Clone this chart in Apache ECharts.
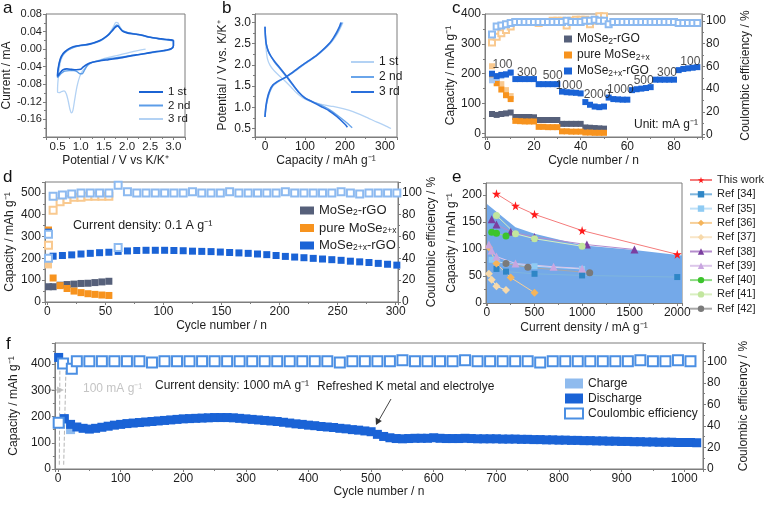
<!DOCTYPE html>
<html><head><meta charset="utf-8">
<script src="https://cdn.jsdelivr.net/npm/echarts@6/dist/echarts.min.js"></script>
<style>html,body{margin:0;padding:0;background:#fff}#c{width:764px;height:505px}</style>
</head><body><div id="c"></div><script>
// ---------- panel a : CV curves [potential V, current mA] ----------
const cv1st = [[3.0,0.020],[3.0,0.008],[2.95,0.001],[2.8,-0.003],[2.6,-0.006],[2.4,-0.010],[2.2,-0.013],[2.0,-0.017],[1.8,-0.021],[1.6,-0.024],[1.4,-0.027],[1.25,-0.030],[1.15,-0.034],[1.05,-0.041],[1.0,-0.046],[0.9,-0.047],[0.8,-0.046],[0.7,-0.045],[0.62,-0.047],[0.56,-0.053],[0.5,-0.062],[0.5,-0.058],[0.52,-0.040],[0.56,-0.022],[0.62,-0.010],[0.7,-0.002],[0.8,0.004],[0.9,0.007],[1.0,0.009],[1.1,0.010],[1.2,0.012],[1.3,0.015],[1.4,0.019],[1.5,0.025],[1.6,0.033],[1.68,0.042],[1.75,0.050],[1.8,0.053],[1.85,0.047],[1.9,0.041],[2.0,0.037],[2.1,0.035],[2.2,0.034],[2.35,0.031],[2.5,0.027],[2.7,0.024],[2.85,0.022],[2.95,0.021],[3.0,0.020]];
const cv2nd = [[3.0,0.019],[3.0,0.007],[2.95,0.000],[2.8,-0.004],[2.6,-0.007],[2.4,-0.010],[2.2,-0.013],[2.0,-0.016],[1.8,-0.019],[1.6,-0.022],[1.4,-0.026],[1.25,-0.030],[1.15,-0.036],[1.08,-0.048],[1.03,-0.056],[0.98,-0.056],[0.92,-0.051],[0.85,-0.049],[0.75,-0.049],[0.65,-0.050],[0.57,-0.056],[0.5,-0.065],[0.5,-0.060],[0.52,-0.042],[0.56,-0.024],[0.62,-0.012],[0.7,-0.004],[0.8,0.002],[0.9,0.006],[1.0,0.008],[1.2,0.011],[1.4,0.018],[1.5,0.024],[1.6,0.032],[1.7,0.046],[1.78,0.055],[1.83,0.050],[1.9,0.042],[2.0,0.038],[2.2,0.034],[2.35,0.031],[2.42,0.028],[2.5,0.027],[2.7,0.023],[2.85,0.021],[3.0,0.019]];
const cv3rd = [[2.4,0.000],[2.2,-0.004],[2.0,-0.009],[1.8,-0.014],[1.6,-0.019],[1.4,-0.025],[1.25,-0.030],[1.15,-0.037],[1.05,-0.048],[0.98,-0.062],[0.92,-0.085],[0.87,-0.115],[0.83,-0.140],[0.8,-0.145],[0.77,-0.138],[0.73,-0.118],[0.69,-0.102],[0.64,-0.095],[0.58,-0.097],[0.54,-0.099],[0.5,-0.098],[0.5,-0.090],[0.52,-0.060],[0.55,-0.035],[0.6,-0.018],[0.68,-0.006],[0.78,0.002],[0.9,0.006],[1.0,0.008],[1.2,0.012],[1.4,0.019],[1.5,0.025],[1.6,0.034],[1.7,0.050],[1.76,0.061],[1.8,0.060],[1.85,0.050],[1.9,0.043],[2.0,0.038],[2.2,0.034],[2.4,0.029],[2.6,0.025],[2.8,0.022],[3.0,0.020],[3.0,0.012]];

// ---------- panel b : GCD curves [capacity, potential] ----------
const gcd1Dis = [[0,2.9],[1,2.6],[3,2.35],[6,2.15],[12,2.0],[22,1.87],[35,1.75],[50,1.62],[65,1.48],[80,1.33],[95,1.22],[110,1.15],[130,1.09],[150,1.05],[170,1.02],[195,0.97],[220,0.9],[250,0.78],[280,0.65],[300,0.57],[315,0.5]];
const gcd1Chg = [[0,0.77],[2,0.95],[6,1.15],[12,1.35],[20,1.5],[30,1.58],[45,1.67],[60,1.75],[80,1.88],[100,2.02],[120,2.15],[140,2.3],[155,2.42],[170,2.58],[182,2.75],[190,2.9],[195,3.0]];
const gcd2Dis = [[0,2.9],[1,2.7],[3,2.5],[8,2.32],[15,2.2],[25,2.05],[40,1.88],[55,1.7],[70,1.52],[85,1.35],[100,1.22],[120,1.13],[140,1.05],[160,0.95],[180,0.82],[200,0.67],[218,0.52]];
const gcd2Chg = [[0,0.77],[2,0.98],[6,1.2],[12,1.38],[20,1.52],[35,1.62],[50,1.7],[70,1.83],[90,1.97],[110,2.1],[130,2.24],[150,2.4],[165,2.55],[180,2.75],[188,2.9],[193,3.0]];
const gcd3Dis = [[0,2.9],[1,2.7],[3,2.5],[8,2.33],[15,2.2],[25,2.07],[40,1.9],[55,1.72],[70,1.53],[85,1.35],[100,1.22],[120,1.12],[140,1.02],[160,0.92],[180,0.78],[200,0.6],[206,0.53]];
const gcd3Chg = [[0,0.77],[2,1.0],[6,1.22],[12,1.4],[20,1.53],[35,1.63],[50,1.7],[70,1.83],[90,1.97],[110,2.1],[130,2.23],[150,2.4],[165,2.55],[178,2.75],[186,2.9],[190,3.0]];

// ---------- panel c : rate performance ----------
const cCycles = [2,4,6,8,10,12,14,16,18,20,22,24,26,28,30,32,34,36,38,40,42,44,46,48,50,52,54,56,58,60,62,64,66,68,70,72,74,76,78,80,82,84,86,88,90];
const cRgoX = [200,192,196,198,204, 182,182,182,182,182, 165,165,165,165,165, 140,138,137,136,134, 105,96,90,88,90, 120,115,114,113,113, 145,148,150,152,155, 180,180,180,180,180, 212,216,218,220,222];
const cPure = [185,168,147,128,115, 42,41,40,40,40, 22,22,21,21,21, 7,7,6,6,6, 3,3,2,2,2];
const cMoSe2 = [65,62,65,67,70, 55,55,55,55,54, 45,45,45,45,45, 32,32,32,32,32, 20,19,18,17,16];
const cChargeCycles = [2,4,6,8,10];
const cPureCharge = [225,185,165,145,125];
const cRgoXCharge = [178,186,192,196,202];
const cCeRgoX = [88,95,96,97,98, 99,99,99,99,99, 99,99,99,99,99, 99,100,99,99,99, 100,100,101,100,100, 97,99,99,99,99, 99,99,99,99,99, 99,99,99,99,99, 98,98,98,98,98];
const cCePure = [81,86,89,92,95, 99,99,99,99,99, 98,99,99,100,100, 100,96,100,101,101, 101,97,100,104,104];
const cRateLabels = ['100','300','500','1000','2000','1000','500','300','100'];

// ---------- panel d : cycling at 0.1 A/g ----------
const dRgoXCycles = [1,5,13,21,29,37,45,53,61,69,77,85,93,101,109,117,125,133,141,149,157,165,173,181,189,197,205,213,221,229,237,245,253,261,269,277,285,293,301];
const dRgoX = [320,210,213,216,220,223,226,228,232,234,236,237,237,237,236,235,233,232,231,229,227,225,223,220,217,213,209,206,203,200,197,194,191,187,184,181,177,173,169];
const dCeRgoX = [62,97,98,99,100,100,100,100,107,101,100,100,100,100,100,100,101,100,100,100,101,100,100,100,100,100,101,100,100,100,100,100,101,100,99,100,100,100,100];
const dCeRgoXExtra = [[1,40],[61,50]];
const dPureCycles = [1,5,11,17,23,29,35,41,47,53];
const dPure = [330,110,75,62,50,43,38,35,32,30];
const dPureCharge = [[1,170]];
const dMoSe2 = [70,70,77,80,82,85,86,89,92,95];
const dCePure = [52,84,92,94,96,96,97,97,97,97];

// ---------- panel e : comparison [current density, capacity] ----------
const eArea = [[0,183],[300,140],[500,128],[1000,107],[1550,98],[2050,88]];
const eThisWork = [[100,202],[300,180],[500,164],[1000,134],[2000,90]];
const eRef34 = [[100,63],[200,58],[500,54],[1000,51],[2000,48]];
const eRef35 = [[50,80],[100,77],[200,73],[500,68],[1000,63]];
const eRef36 = [[20,103],[100,73],[250,47],[500,19]];
const eRef37 = [[20,54],[50,43],[100,31],[200,24]];
const eRef38 = [[50,155],[100,145],[250,132],[500,122],[1050,108],[1550,99]];
const eRef39 = [[20,108],[50,97],[100,86],[300,73],[700,67],[1000,64]];
const eRef40 = [[50,131],[100,129],[200,124]];
const eRef41 = [[100,162],[300,128],[500,119],[1000,105]];
const eRef42 = [[200,73],[430,66],[1080,56]];

// ---------- panel f : long cycling at 1000 mA/g ----------
const fCycles = [1,10,20,30,40,50,60,70,80,90,100,110,120,130,140,150,160,170,180,190,200,210,220,230,240,250,260,270,280,290,300,310,320,330,340,350,360,370,380,390,400,410,420,430,440,450,460,470,480,490,500,510,520,530,540,550,560,570,580,590,600,610,620,630,640,650,660,670,680,690,700,710,720,730,740,750,760,770,780,790,800,810,820,830,840,850,860,870,880,890,900,910,920,930,940,950,960,970,980,990,1000,1010,1020];
const fDischarge = [425,
 192,170,160,155,152,155,159,163,167,170,
 173,175,177,179,181,183,185,187,189,191,
 192,193,194,195,196,196,196,195,193,191,
 189,187,185,183,181,178,175,172,170,167,
 165,162,160,158,155,153,150,148,145,142,
 132,124,119,116,115,116,117,117,117,119,
 117,116,116,116,117,116,115,115,115,115,
 114,114,114,113,113,112,112,111,111,110,
 110,109,109,108,108,107,107,106,106,105,
 105,104,104,103,103,102,102,102,101,101,
 101,100];
const fChargePts = [[10,188],[20,150]];
const fCeCycles = [1,8,22,30,50,70,90,110,130,150,170,190,210,230,250,270,290,310,330,350,370,390,410,430,450,470,490,510,530,550,570,590,610,630,650,670,690,710,730,750,770,790,810,830,850,870,890,910,930,950,970,990,1010];
const fCe = [43,98,93,
 100,100,100,100,100,100,99,100,100,100,
 100,100,100,100,100,100,100,100,100,100,
 100,99,100,100,100,100,101,100,100,100,
 100,101,100,100,100,100,100,99,100,100,
 100,100,100,100,100,101,100,100,101,100];

// ---------- helpers ----------
const FF = '"Liberation Sans", Arial, sans-serif';
const AX = '#7d7d7d', TXT = '#1e1e1e';
const zip = (xs, ys) => xs.map((x, i) => [x, ys[i]]);
function vAxis(o) {
  const step = o.step, dec = o.dec || 0;
  return {
    type: 'value', gridIndex: o.g, min: o.min, max: o.max,
    interval: o.interval, splitNumber: o.split, position: o.pos,
    name: o.name, nameLocation: 'middle', nameGap: o.gap,
    nameTextStyle: {fontSize: 12, color: TXT, fontFamily: FF},
    axisLine: {show: true, onZero: false, lineStyle: {color: AX, width: 1}},
    axisTick: {show: true, length: 3, lineStyle: {color: AX}},
    minorTick: {show: true, splitNumber: 2, length: 2, lineStyle: {color: AX}},
    splitLine: {show: false},
    axisLabel: {fontSize: o.fs || 12, color: TXT, fontFamily: FF, margin: 4,
      showMinLabel: o.hideMin ? false : null, showMaxLabel: o.hideMax ? false : null,
      formatter: v => {
        const k = v / step;
        if (Math.abs(k - Math.round(k)) > 1e-6) return '';
        return (Math.round(k) * step).toFixed(dec);
      }}
  };
}
const SUBR = {sub: {fontSize: 8.5, padding: [5, 0, 0, 0], fontFamily: FF, color: TXT}};
const NAMES = {
  a1: '1 st', a2: '2 nd', a3: '3 rd', b1: '1 st', b2: '2 nd', b3: '3 rd',
  gray: 'MoSe{sub|2}-rGO', pure: 'pure MoSe{sub|2+x}', rgox: 'MoSe{sub|2+x}-rGO',
  charge: 'Charge', discharge: 'Discharge', ce: 'Coulombic efficiency'
};
const fmt = n => NAMES[n] !== undefined ? NAMES[n] : n;

const BLUE = '#1a63d6', LBLUE = '#a8c8f2', CEBLUE = '#8dbaf0';
const ORANGE = '#f7931e', LORANGE = '#f9c98f', GRAY = '#56607a';

function sc(name, x, y, data, color, size, symbol, z) {
  return {type: 'scatter', name, xAxisIndex: x, yAxisIndex: y, data, symbol: symbol || 'rect',
    symbolSize: size, itemStyle: {color, opacity: 1}, z: z || 2, silent: true};
}
function ln(name, x, y, data, color, width, extra) {
  return Object.assign({type: 'line', name, xAxisIndex: x, yAxisIndex: y, data, symbol: 'none',
    smooth: 0.25, lineStyle: {color, width}, itemStyle: {color}, silent: true}, extra || {});
}
function ref(name, data, color, lcolor, symbol, size) {
  return {type: 'line', name, xAxisIndex: 4, yAxisIndex: 6, data, symbol, symbolSize: size,
    showSymbol: true, lineStyle: {color: lcolor, width: 1}, itemStyle: {color}, z: 3, silent: true};
}
const STAR = 'path://M50,0 L61,35 L98,35 L68,57 L79,91 L50,70 L21,91 L32,57 L2,35 L39,35 Z';

const rateAnchors = [[6.5,229],[17,205],[28,195],[35,161],[47,131],[57,145],[67,178],[77,205],[87,239]];

const option = {
  animation: false,
  textStyle: {fontFamily: FF},
  grid: [
    {left: 45, top: 14, width: 140, height: 123, show: true, borderColor: AX, borderWidth: 1},
    {left: 255, top: 14, width: 142, height: 123, show: true, borderColor: AX, borderWidth: 1},
    {left: 485, top: 14, width: 217, height: 123, show: true, borderColor: AX, borderWidth: 1},
    {left: 45, top: 182, width: 353, height: 120, show: true, borderColor: AX, borderWidth: 1},
    {left: 486, top: 183, width: 196, height: 120, show: true, borderColor: AX, borderWidth: 1},
    {left: 45, top: 343, width: 658, height: 126, show: true, borderColor: AX, borderWidth: 1}
  ],
  xAxis: [
    vAxis({g: 0, min: 0.25, max: 3.25, split: 5, step: 0.5, dec: 1, fs: 11.5, name: 'Potential / V vs K/K\u207A', gap: 18, hideMin: true, hideMax: true}),
    vAxis({g: 1, min: -25, max: 330, split: 4, step: 100, name: 'Capacity / mAh g\u207B\u00B9', gap: 18, hideMin: true, hideMax: true}),
    vAxis({g: 2, min: -1, max: 92, split: 5, step: 20, name: 'Cycle number / n', gap: 18, hideMin: true, hideMax: true}),
    vAxis({g: 3, min: -2, max: 302, split: 6, step: 50, name: 'Cycle number / n', gap: 18, hideMin: true, hideMax: true}),
    vAxis({g: 4, min: -10, max: 2050, split: 4, step: 500, name: 'Current density / mA g\u207B\u00B9', gap: 19, hideMin: true, hideMax: true}),
    vAxis({g: 5, min: -5, max: 1030, split: 10, step: 100, name: 'Cycle number / n', gap: 15, hideMin: true, hideMax: true})
  ],
  yAxis: [
    vAxis({g: 0, min: -0.2, max: 0.08, interval: 0.04, step: 0.04, dec: 2, fs: 11, name: 'Current / mA', gap: 27, hideMin: true}),
    vAxis({g: 1, min: 0.3, max: 3.2, split: 5, step: 0.5, dec: 1, name: 'Potential / V vs. K/K\u207A', gap: 26, hideMin: true, hideMax: true}),
    vAxis({g: 2, min: -12, max: 400, split: 5, step: 100, name: 'Capacity / mAh g\u207B\u00B9', gap: 25, hideMin: true}),
    vAxis({g: 2, min: -2, max: 106, split: 5, step: 20, pos: 'right', name: 'Coulombic efficiency / %', gap: 38, hideMin: true, hideMax: true}),
    vAxis({g: 3, min: 0, max: 550, interval: 100, step: 100, name: 'Capacity / mAh g\u207B\u00B9', gap: 29, hideMax: true}),
    vAxis({g: 3, min: 0, max: 110, interval: 20, step: 20, pos: 'right', name: 'Coulombic efficiency / %', gap: 13, hideMax: true}),
    vAxis({g: 4, min: 0, max: 222, interval: 50, step: 50, name: 'Capacity / mAh g\u207B\u00B9', gap: 23, hideMax: true}),
    vAxis({g: 5, min: 0, max: 480, interval: 100, step: 100, name: 'Capacity / mAh g\u207B\u00B9', gap: 28, hideMax: true}),
    vAxis({g: 5, min: 0, max: 117, interval: 20, step: 20, pos: 'right', name: 'Coulombic efficiency / %', gap: 35, hideMax: true})
  ],
  legend: [
    {data: ['a1','a2','a3'], left: 133, top: 81, orient: 'vertical', itemWidth: 24, itemHeight: 10, itemGap: 1.5,
      itemStyle: {opacity: 0}, formatter: fmt, textStyle: {fontSize: 11.5, lineHeight: 11, color: TXT, fontFamily: FF}},
    {data: ['b1','b2','b3'], left: 345, top: 51, orient: 'vertical', itemWidth: 23, itemHeight: 10, itemGap: 3,
      itemStyle: {opacity: 0}, formatter: fmt, textStyle: {fontSize: 12, lineHeight: 12, color: TXT, fontFamily: FF}},
    {data: ['gray','pure','rgox'], left: 559, top: 28, orient: 'vertical', itemWidth: 8, itemHeight: 7, itemGap: 3,
      formatter: fmt, textStyle: {fontSize: 12, color: TXT, fontFamily: FF, rich: SUBR}},
    {data: ['gray','pure','rgox'], left: 295, top: 199, orient: 'vertical', itemWidth: 14, itemHeight: 8, itemGap: 4,
      formatter: fmt, textStyle: {fontSize: 13, color: TXT, fontFamily: FF, rich: SUBR}},
    {data: ['This work','Ref [34]','Ref [35]','Ref [36]','Ref [37]','Ref [38]','Ref [39]','Ref [40]','Ref [41]','Ref [42]'],
      left: 684, top: 168, orient: 'vertical', itemWidth: 22, itemHeight: 8, itemGap: 0.3,
      textStyle: {fontSize: 11, lineHeight: 14, color: TXT, fontFamily: FF}},
    {data: ['charge','discharge','ce'], left: 559, top: 372, orient: 'vertical', itemWidth: 18, itemHeight: 10, itemGap: 2,
      formatter: fmt, textStyle: {fontSize: 12, lineHeight: 13, color: TXT, fontFamily: FF}}
  ],
  series: [
    // a
    ln('a3', 0, 0, cv3rd, '#b3d2f4', 1.3),
    ln('a2', 0, 0, cv2nd, '#5c9de8', 1.4),
    ln('a1', 0, 0, cv1st, '#1b63d3', 1.6),
    // b
    ln('b1', 1, 1, gcd1Dis, '#b3d2f4', 1.3), ln('b1', 1, 1, gcd1Chg, '#b3d2f4', 1.3),
    ln('b2', 1, 1, gcd2Dis, '#6aa5ea', 1.4), ln('b2', 1, 1, gcd2Chg, '#6aa5ea', 1.4),
    ln('b3', 1, 1, gcd3Dis, '#2a6fdb', 1.6), ln('b3', 1, 1, gcd3Chg, '#2a6fdb', 1.6),
    // c
    sc('gray', 2, 2, zip(cCycles.slice(0, 25), cMoSe2), GRAY, 6),
    sc('pureCharge', 2, 2, zip(cChargeCycles, cPureCharge), LORANGE, 6),
    sc('pure', 2, 2, zip(cCycles.slice(0, 25), cPure), ORANGE, 6),
    sc('rgoxCharge', 2, 2, zip(cChargeCycles, cRgoXCharge), LBLUE, 6),
    sc('rgox', 2, 2, zip(cCycles, cRgoX), BLUE, 6),
    sc('ceC1', 2, 3, zip(cCycles.slice(0, 25), cCePure), LORANGE, 6, 'emptyRect'),
    sc('ceC2', 2, 3, zip(cCycles, cCeRgoX), CEBLUE, 6, 'emptyRect'),
    {type: 'scatter', name: 'rateLabels', xAxisIndex: 2, yAxisIndex: 2, symbolSize: 1,
      itemStyle: {color: 'rgba(0,0,0,0)'}, silent: true, z: 5,
      data: cRateLabels.map((t, i) => ({name: t, value: rateAnchors[i]})),
      label: {show: true, position: 'inside', formatter: p => p.name, fontSize: 12, color: TXT, fontFamily: FF}},
    // d
    sc('gray', 3, 4, zip(dPureCycles, dMoSe2), GRAY, 7),
    sc('pureChargeD', 3, 4, dPureCharge, LORANGE, 7),
    sc('pure', 3, 4, zip(dPureCycles, dPure), ORANGE, 7),
    sc('rgox', 3, 4, zip(dRgoXCycles, dRgoX), BLUE, 7),
    sc('ceD1', 3, 5, zip(dPureCycles, dCePure), LORANGE, 7, 'emptyRect'),
    sc('ceD2', 3, 5, zip(dRgoXCycles, dCeRgoX).concat(dCeRgoXExtra), CEBLUE, 7, 'emptyRect'),
    // e
    {type: 'line', name: 'area', xAxisIndex: 4, yAxisIndex: 6, data: eArea, symbol: 'none',
      lineStyle: {width: 0}, areaStyle: {color: '#74a9e9', opacity: 1}, z: 1, silent: true},
    ref('Ref [34]', eRef34, '#2f86c6', '#7fb6de', 'rect', 6),
    ref('Ref [35]', eRef35, '#8fcbf3', '#bfe0f7', 'rect', 6),
    ref('Ref [36]', eRef36, '#f5b45a', '#f7cf98', 'diamond', 8),
    ref('Ref [37]', eRef37, '#f7d9aa', '#f9e6c8', 'diamond', 8),
    ref('Ref [38]', eRef38, '#7b3fa0', '#b48ccc', 'triangle', 8),
    ref('Ref [39]', eRef39, '#c9a6e0', '#dcc6ea', 'triangle', 8),
    ref('Ref [40]', eRef40, '#3cc42c', '#8edb84', 'circle', 7),
    ref('Ref [41]', eRef41, '#c2e69e', '#d8efc0', 'circle', 7),
    ref('Ref [42]', eRef42, '#7a7a7a', '#a8a8a8', 'circle', 7),
    ref('This work', eThisWork, '#ff1a1a', '#f47b7b', STAR, 9),
    // f
    {type: 'line', name: 'dash1', xAxisIndex: 5, yAxisIndex: 7, data: [[3,420],[2,15]], symbol: 'none',
      lineStyle: {color: '#b5b5b5', width: 1, type: 'dashed'}, silent: true, z: 1},
    {type: 'line', name: 'dash2', xAxisIndex: 5, yAxisIndex: 7, data: [[13,420],[9,15]], symbol: 'none',
      lineStyle: {color: '#b5b5b5', width: 1, type: 'dashed'}, silent: true, z: 1},
    sc('charge', 5, 7, fChargePts, '#8fbbee', 9),
    sc('discharge', 5, 7, zip(fCycles, fDischarge), BLUE, 9),
    sc('ce', 5, 8, zip(fCeCycles, fCe), '#4b8fe3', 10, 'emptyRect', 3)
  ],
  graphic: [
    {type: 'text', left: 3, top: 0, style: {text: 'a', fontSize: 17, fill: '#111', fontFamily: FF}},
    {type: 'text', left: 222, top: 0, style: {text: 'b', fontSize: 17, fill: '#111', fontFamily: FF}},
    {type: 'text', left: 452, top: 0, style: {text: 'c', fontSize: 17, fill: '#111', fontFamily: FF}},
    {type: 'text', left: 3, top: 169, style: {text: 'd', fontSize: 17, fill: '#111', fontFamily: FF}},
    {type: 'text', left: 452, top: 169, style: {text: 'e', fontSize: 17, fill: '#111', fontFamily: FF}},
    {type: 'text', left: 6, top: 336, style: {text: 'f', fontSize: 17, fill: '#111', fontFamily: FF}},
    {type: 'text', left: 634, top: 119, style: {text: 'Unit: mA g\u207B\u00B9', fontSize: 12, fill: TXT, fontFamily: FF}},
    {type: 'text', left: 73, top: 219, style: {text: 'Current density: 0.1 A g\u207B\u00B9', fontSize: 12.5, fill: TXT, fontFamily: FF}},
    {type: 'text', left: 155, top: 380, style: {text: 'Current density: 1000 mA g\u207B\u00B9', fontSize: 12, fill: TXT, fontFamily: FF}},
    {type: 'text', left: 317, top: 381, style: {text: 'Refreshed K metal and electrolye', fontSize: 12, fill: TXT, fontFamily: FF}},
    {type: 'text', left: 83, top: 383, style: {text: '100 mA g\u207B\u00B9', fontSize: 12, fill: '#c4c4c4', fontFamily: FF}},
    {type: 'line', shape: {x1: 48, y1: 390, x2: 58, y2: 390}, style: {stroke: '#c4c4c4', lineWidth: 1.2}},
    {type: 'polygon', shape: {points: [[57,386.5],[64,390],[57,393.5]]}, style: {fill: '#c4c4c4'}},
    {type: 'line', shape: {x1: 391, y1: 399, x2: 379, y2: 420}, style: {stroke: '#444', lineWidth: 1}},
    {type: 'polygon', shape: {points: [[376,425],[375.6,417.6],[381.8,421.1]]}, style: {fill: '#333'}}
  ]
};
const chart = echarts.init(document.getElementById('c'), null, {renderer: 'canvas'});
chart.setOption(option);
</script></body></html>
